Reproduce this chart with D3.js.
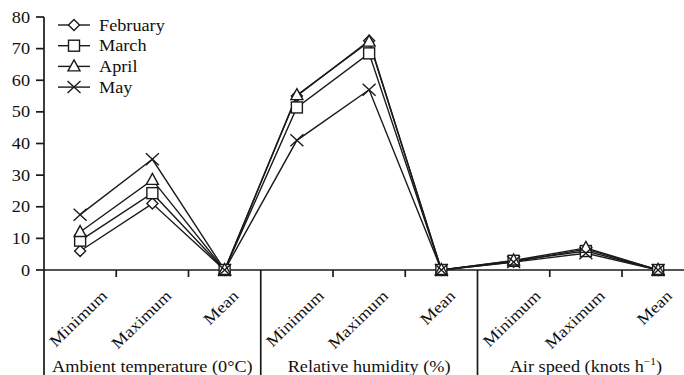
<!DOCTYPE html>
<html>
<head>
<meta charset="utf-8">
<script src="https://cdn.jsdelivr.net/npm/d3@7"></script>
<style>
    body { margin: 0; background: #fff; }
    svg text { font-family: "Liberation Serif", "Times New Roman", serif; fill: #111; }
</style>
</head>
<body>
<svg id="chart"></svg>
<script>
(function () {

    // Data
    const groups = ["Ambient temperature (0°C)", "Relative humidity (%)", "Air speed (knots h"];
    const stats = ["Minimum", "Maximum", "Mean"];
    const months = ["February", "March", "April", "May"];
    const february = [6, 21, 0, 55, 72.5, 0, 2.6, 6.6, 0];
    const march = [9.3, 24.3, 0, 51.4, 68.5, 0, 2.9, 6, 0];
    const april = [12, 28.5, 0, 55.3, 72.2, 0, 3, 7, 0];
    const may = [17.5, 35, 0, 41, 57, 0, 2.5, 5.3, 0];
    const yTicks = [0, 10, 20, 30, 40, 50, 60, 70, 80];

    const series = [february, march, april, may];
    const symbols = ["diamond", "square", "triangle", "cross"];

    // Size & layout
    const width = 684,
        height = 375,
        left = 44,
        bandW = 72.25,
        ink = "#1a1a1a",
        stretch = "scale(1.14,1)";

    // how far right of the category centre each rotated label ends
    const labelShift = [28, 20, 15];

    const svg = d3.select("#chart")
        .attr("width", width)
        .attr("height", height);

    const categories = d3.range(groups.length * stats.length);

    const x = d3.scaleBand()
        .domain(categories)
        .range([left, left + categories.length * bandW]);

    const y = d3.scaleLinear()
        .domain([0, 80])
        .range([270, 17]);

    const cx = (i) => x(i) + x.bandwidth() / 2;

    // Y axis
    svg.append("line")
        .attr("x1", left).attr("x2", left)
        .attr("y1", y(80)).attr("y2", height)
        .attr("stroke", ink).attr("stroke-width", 1.7);

    const yt = svg.selectAll(".ytick")
        .data(yTicks)
        .enter().append("g")
        .attr("class", "ytick");

    yt.append("line")
        .attr("x1", left - 8).attr("x2", left)
        .attr("y1", (d) => y(d)).attr("y2", (d) => y(d))
        .attr("stroke", ink).attr("stroke-width", 1.7);

    yt.append("text")
        .attr("transform", (d) => "translate(30," + (y(d) + 5.5) + ") " + stretch)
        .attr("text-anchor", "end")
        .attr("font-size", 16)
        .text((d) => d);

    // X axis
    svg.append("line")
        .attr("x1", left).attr("x2", x.range()[1])
        .attr("y1", y(0)).attr("y2", y(0))
        .attr("stroke", ink).attr("stroke-width", 1.7);

    svg.selectAll(".xtick")
        .data(d3.range(1, categories.length + 1))
        .enter().append("line")
        .attr("class", "xtick")
        .attr("x1", (d) => left + d * bandW)
        .attr("x2", (d) => left + d * bandW)
        .attr("y1", y(0))
        .attr("y2", (d) => d % stats.length === 0 ? height : y(0) + 7)
        .attr("stroke", ink).attr("stroke-width", 1.7);

    svg.selectAll(".xlabel")
        .data(categories)
        .enter().append("text")
        .attr("class", "xlabel")
        .attr("transform", (d) => "translate(" + (cx(d) + labelShift[d % stats.length]) + ",297) rotate(-44) " + stretch)
        .attr("text-anchor", "end")
        .attr("font-size", 16)
        .text((d) => stats[d % stats.length]);

    const gl = svg.selectAll(".glabel")
        .data(groups)
        .enter().append("text")
        .attr("class", "glabel")
        .attr("transform", (d, i) => "translate(" + (left + (i + 0.5) * stats.length * bandW) + ",372) " + stretch)
        .attr("text-anchor", "middle")
        .attr("font-size", 16);

    gl.append("tspan").text((d) => d);
    gl.filter((d, i) => i === 2).append("tspan")
        .attr("font-size", 10).attr("dy", -7).text("\u22121");
    gl.filter((d, i) => i === 2).append("tspan")
        .attr("dy", 7).text(")");

    // Marker shapes
    const drawMarker = (sel, type) => {
        if (type === "diamond") {
            sel.append("path").attr("d", "M0,-5.5L5.5,0L0,5.5L-5.5,0Z");
        } else if (type === "square") {
            sel.append("rect").attr("x", -5.5).attr("y", -5.5).attr("width", 11).attr("height", 11);
        } else if (type === "triangle") {
            sel.append("path").attr("d", "M0,-6.5L6,4.5L-6,4.5Z");
        } else {
            sel.append("path").attr("d", "M-6.5,-6L6.5,6M-6.5,6L6.5,-6");
        }
        sel.selectAll("path,rect")
            .attr("fill", type === "cross" ? "none" : "#fff")
            .attr("stroke", ink)
            .attr("stroke-width", 1.4);
    };

    // Lines
    const line = d3.line()
        .x((d, i) => cx(i))
        .y((d) => y(d));

    series.forEach((values) => {
        svg.append("path")
            .datum(values)
            .attr("d", line)
            .attr("fill", "none")
            .attr("stroke", ink)
            .attr("stroke-width", 1.4);
    });

    series.forEach((values, s) => {
        svg.selectAll(".m" + s)
            .data(values)
            .enter().append("g")
            .attr("class", "m" + s)
            .attr("transform", (d, i) => "translate(" + cx(i) + "," + y(d) + ")")
            .each(function () { drawMarker(d3.select(this), symbols[s]); });
    });

    // Legend
    const legend = svg.selectAll(".legend")
        .data(months)
        .enter().append("g")
        .attr("class", "legend")
        .attr("transform", (d, i) => "translate(74," + (25 + i * 20.7) + ")");

    legend.append("line")
        .attr("x1", -16).attr("x2", 16)
        .attr("stroke", ink).attr("stroke-width", 1.4);

    legend.each(function (d, i) { drawMarker(d3.select(this), symbols[i]); });

    legend.append("text")
        .attr("transform", "translate(25,5.5) " + stretch)
        .attr("font-size", 16)
        .text((d) => d);
})();
</script>
</body>
</html>
